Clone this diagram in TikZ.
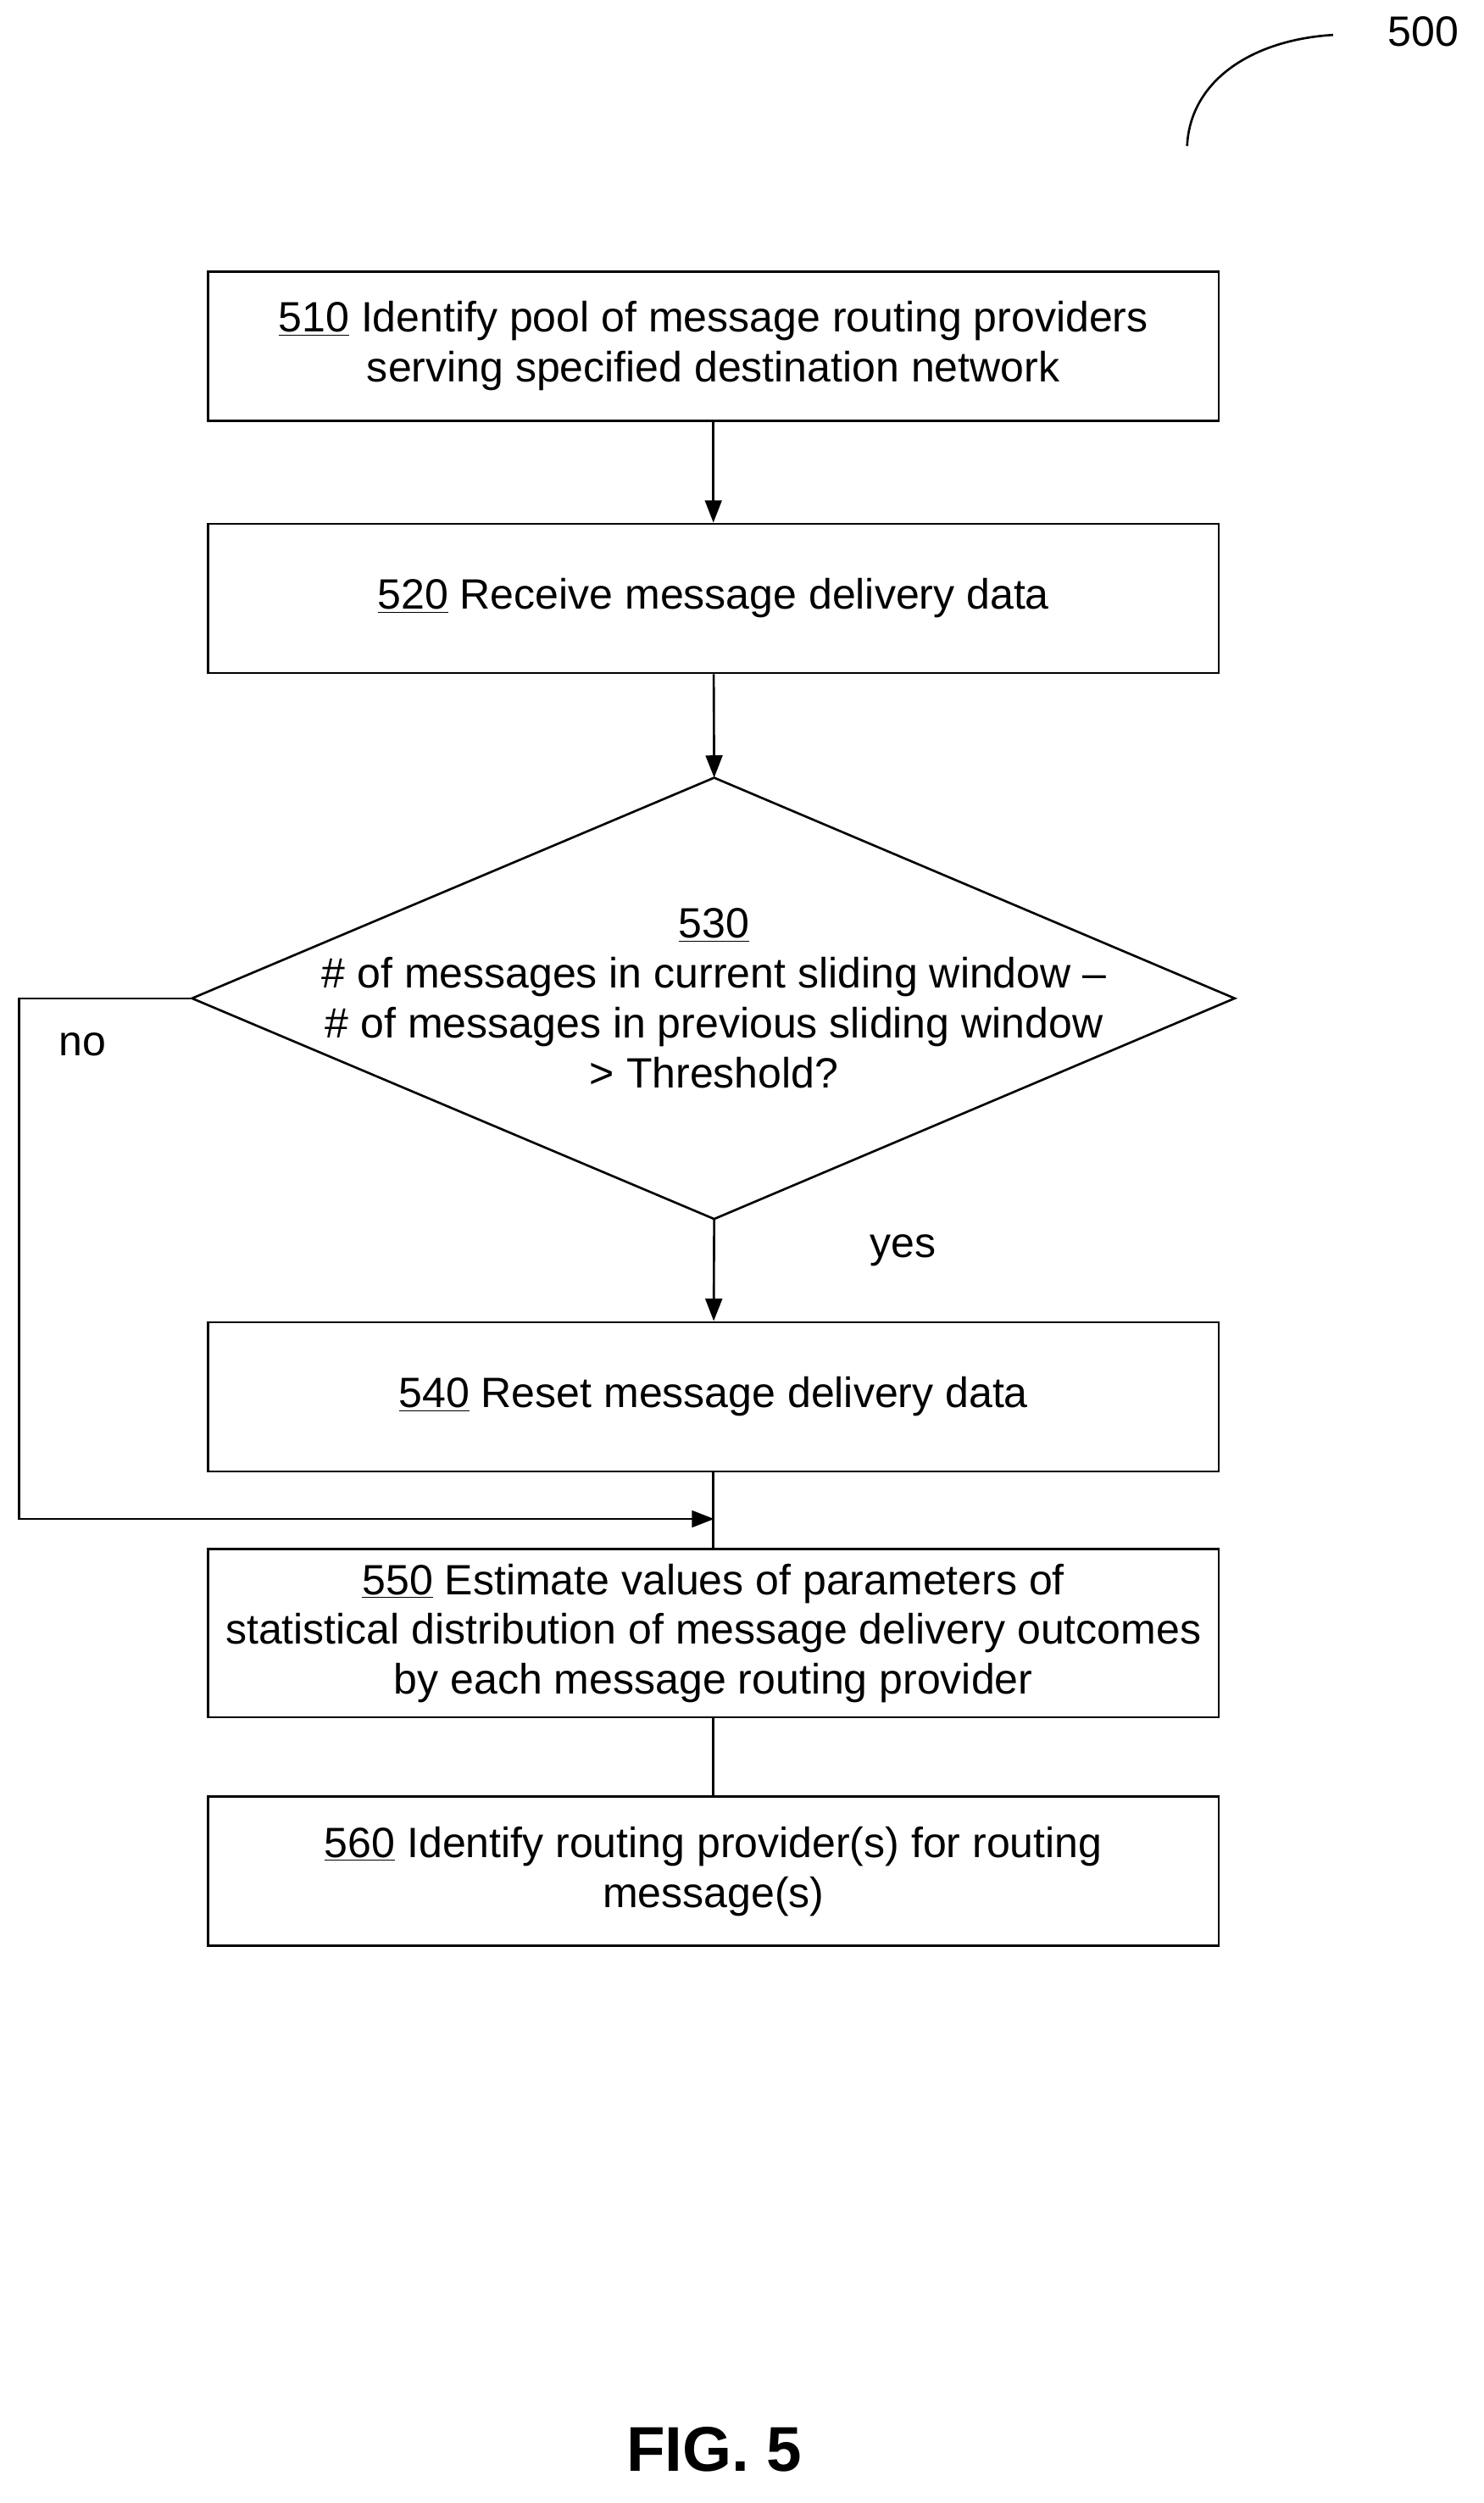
\documentclass[tikz,border=0pt]{standalone}
\usepackage{fontspec}
\setmainfont{Liberation Sans}
\usetikzlibrary{shapes.geometric,arrows.meta}
\begin{document}
\begin{tikzpicture}[x=0.03cm,y=-0.03cm,
  box/.style={draw,line width=1.2pt,minimum width=637*0.03cm,align=center,inner sep=0pt,font=\fontsize{22.8}{26.8}\selectfont},
  ar/.style={line width=1.2pt,-{Triangle[length=12pt,width=9pt]}},
  ln/.style={line width=1.2pt},
  lab/.style={font=\fontsize{22.8}{26.8}\selectfont}]
\useasboundingbox (0,0) rectangle (935,1577);
\node[box,minimum height=94*0.03cm] (b510) at (449.5,218) {\underline{510} Identify pool of message routing providers\\serving specified destination network};
\node[box,minimum height=94*0.03cm] (b520) at (449.5,377) {\underline{520} Receive message delivery data};
\coordinate (dt) at (450,490); \coordinate (db) at (450,768);
\coordinate (dl) at (121,629); \coordinate (dr) at (778,629);
\draw[ln] (dt) -- (dr) -- (db) -- (dl) -- cycle;
\node[lab,align=center] (t530) at (450,629) {\underline{530}\\\# of messages in current sliding window –\\\# of messages in previous sliding window\\> Threshold?};
\node[box,minimum height=94*0.03cm] (b540) at (449.5,880) {\underline{540} Reset message delivery data};
\node[box,minimum height=106*0.03cm] (b550) at (449.5,1029) {\underline{550} Estimate values of parameters of\\statistical distribution of message delivery outcomes\\by each message routing provider};
\node[box,minimum height=94*0.03cm] (b560) at (449.5,1179) {\underline{560} Identify routing provider(s) for routing\\message(s)};
\draw[ar] (b510) -- (b520);
\draw[ar] (b520) -- (dt);
\draw[ar] (db) -- (b540);
\draw[ln] (b540) -- (b550);
\draw[ln] (b550) -- (b560);
\coordinate (m) at (450,957);
\draw[ar] (dl) -- (12,629) -- (12,957) -- (m);
\node[lab] (no) at (52,658) {no};
\node[lab] (yes) at (569,788) {yes};
\node[lab] (n500) at (897,20) {500};
\coordinate (c1) at (748,92); \coordinate (c2) at (840,22);
\draw[ln] (c1) .. controls (750,50) and (790,25) .. (c2);
\node[font=\bfseries\fontsize{34}{38}\selectfont] (fig) at (450,1543) {FIG. 5};
\end{tikzpicture}
\end{document}
